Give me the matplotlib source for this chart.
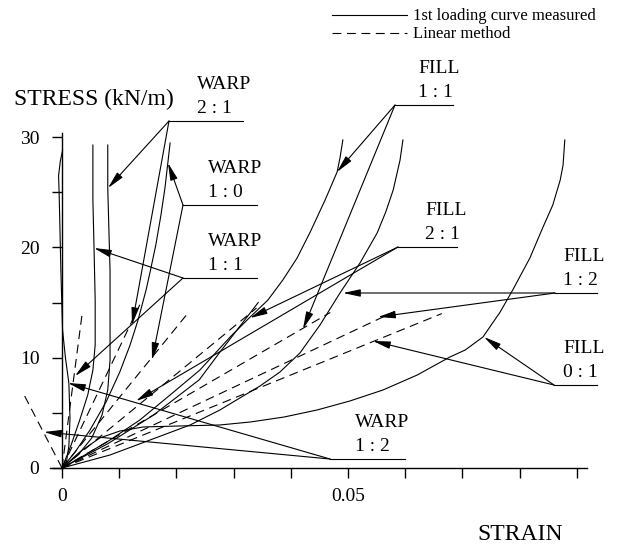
import matplotlib
matplotlib.use("Agg")
import matplotlib.pyplot as plt
from matplotlib.ticker import FixedLocator, FuncFormatter

plt.rcParams["font.family"] = ["Liberation Serif", "DejaVu Serif"]

# ---- data: 1st loading curves measured (strain, stress kN/m) ----
warp_12_strain = [0.0, 0.0008, 0.0012, 0.0014, 0.0012, 0.0006, 0.0001, -0.0002, -0.0005, -0.0006, -0.0003, 0.0001]
warp_12_stress = [0.0, 0.6, 2.0, 4.5, 7.7, 10.0, 12.5, 18.0, 24.9, 26.5, 27.8, 28.8]

warp_11_strain = [0.0, 0.0016, 0.0031, 0.0045, 0.0054, 0.0058, 0.0058, 0.0056, 0.0054, 0.0054]
warp_11_stress = [0.0, 2.09, 4.35, 6.62, 8.88, 11.15, 15.23, 19.95, 24.30, 29.28]

warp_21_strain = [0.0, 0.0028, 0.0052, 0.0070, 0.0080, 0.0084, 0.0084, 0.0084, 0.0082, 0.0080, 0.0080]
warp_21_stress = [0.0, 1.18, 2.72, 4.81, 7.07, 9.79, 13.42, 17.95, 21.58, 25.39, 29.28]

warp_10_strain = [0.0, 0.0023, 0.0049, 0.0077, 0.0101, 0.0119, 0.0133, 0.0147, 0.0154, 0.0164, 0.0173, 0.0180, 0.0185, 0.0189]
warp_10_stress = [0.0, 1.45, 3.45, 5.98, 8.70, 11.15, 13.42, 16.14, 17.77, 20.22, 22.94, 25.39, 27.65, 29.47]

fill_21_strain = [0.0, 0.008, 0.016, 0.024, 0.0276, 0.0343]
fill_21_stress = [0.0, 2.2, 4.8, 8.0, 10.5, 15.0]

fill_11_strain = [0.0, 0.0040, 0.0084, 0.0136, 0.0189, 0.0241, 0.0294, 0.0329, 0.0360, 0.0386, 0.0411, 0.0434, 0.0460, 0.0481, 0.0486, 0.0491]
fill_11_stress = [0.0, 1.18, 2.54, 4.35, 6.62, 8.88, 11.88, 13.69, 15.23, 17.04, 19.04, 21.40, 24.30, 26.84, 28.11, 29.74]

fill_12_strain = [0.0, 0.0084, 0.0154, 0.0224, 0.0276, 0.0311, 0.0346, 0.0381, 0.0416, 0.0451, 0.0486, 0.0521, 0.0551, 0.0566, 0.0579, 0.0591, 0.0596]
fill_12_stress = [0.0, 1.18, 2.54, 3.90, 5.26, 6.35, 7.43, 8.70, 10.43, 12.96, 15.87, 18.59, 21.31, 23.21, 25.20, 27.92, 29.74]

fill_01_strain = [0.0, 0.0031, 0.0066, 0.0101, 0.0142, 0.0206, 0.0276, 0.0329, 0.0388, 0.0446, 0.0503, 0.0561, 0.0621,
                  0.0678, 0.0705, 0.0736, 0.0766, 0.0788, 0.0818, 0.0841, 0.0858, 0.0871, 0.0876, 0.0879]
fill_01_stress = [0.0, 1.45, 2.72, 3.35, 3.72, 3.81, 3.90, 4.17, 4.62, 5.26, 6.07, 7.07, 8.43,
                  10.06, 10.70, 11.88, 14.14, 16.14, 19.04, 21.85, 23.84, 26.11, 27.47, 29.74]

# ---- data: linear method, straight from origin to end point ----
linear_names = ["WARP 1:2", "WARP 1:1", "WARP 2:1", "WARP 1:0", "FILL 2:1", "FILL 1:1", "FILL 1:2", "FILL 0:1"]
linear_end_strain = [-0.0068, 0.0035, 0.0136, 0.0218, 0.0340, 0.0469, 0.0582, 0.0664]
linear_end_stress = [6.8, 13.9, 14.8, 13.9, 14.5, 14.1, 14.2, 14.0]

x_ticks = [0.0, 0.01, 0.02, 0.03, 0.04, 0.05, 0.06, 0.07, 0.08, 0.09]
x_tick_text = {0.0: "0", 0.05: "0.05"}
y_ticks = [0, 10, 20, 30]
y_minor = [5, 15, 25]

# ---- layout: pixel mapping of the original figure ----
W, H = 619, 546
X0, SX = 62.0, 5720.0     # px at strain 0, px per unit strain
Y0, SY = 468.0, 11.03     # px at stress 0, px per kN/m


def dx(px):
    return (px - X0) / SX


def dy(py):
    return (Y0 - py) / SY


fig = plt.figure(figsize=(W / 100, H / 100), dpi=100)
ax = fig.add_axes([0, 0, 1, 1])
ax.set_xlim(dx(0), dx(W))
ax.set_ylim(dy(H), dy(0))
ax.patch.set_visible(False)

lw = 0.8
curves = [
    (warp_12_strain, warp_12_stress), (warp_11_strain, warp_11_stress),
    (warp_21_strain, warp_21_stress), (warp_10_strain, warp_10_stress),
    (fill_21_strain, fill_21_stress), (fill_11_strain, fill_11_stress),
    (fill_12_strain, fill_12_stress), (fill_01_strain, fill_01_stress),
]
for xs, ys in curves:
    ax.plot(xs, ys, color="black", lw=lw, solid_joinstyle="round")

for ex, ey in zip(linear_end_strain, linear_end_stress):
    ax.plot([0, ex], [0, ey], color="black", lw=lw, linestyle=(0, (8, 5)))

# axes spines through the origin
for s in ("top", "right"):
    ax.spines[s].set_visible(False)
ax.spines["left"].set_position(("data", 0))
ax.spines["bottom"].set_position(("data", 0))
ax.spines["left"].set_bounds(0, dy(133))
ax.spines["bottom"].set_bounds(dx(50), dx(587))
for s in ("left", "bottom"):
    ax.spines[s].set_linewidth(1.0)
ax.yaxis.set_ticks_position("left")
ax.xaxis.set_ticks_position("bottom")
ax.xaxis.set_major_locator(FixedLocator(x_ticks))
ax.xaxis.set_major_formatter(FuncFormatter(lambda v, p: x_tick_text.get(round(v, 3), "")))
ax.yaxis.set_major_locator(FixedLocator(y_ticks))
ax.yaxis.set_minor_locator(FixedLocator(y_minor))
ax.tick_params(axis="both", which="both", direction="out", length=7.2, width=1.0, labelsize=14)
ax.tick_params(axis="y", pad=9)
ax.tick_params(axis="x", pad=7)

# axis titles
ax.text(dx(14), dy(105), "STRESS (kN/m)", fontsize=17, ha="left", va="baseline")
ax.text(dx(477), dy(540), "STRAIN", fontsize=17, ha="left", va="baseline")

# legend
ax.plot([dx(332), dx(407)], [dy(15), dy(15)], color="black", lw=lw)
ax.text(dx(413), dy(20), "1st loading curve measured", fontsize=12, ha="left", va="baseline")
ax.plot([dx(332), dx(407)], [dy(33), dy(33)], color="black", lw=lw, linestyle=(0, (8, 5)))
ax.text(dx(413), dy(38), "Linear method", fontsize=12, ha="left", va="baseline")

# labelled leaders: (name, ratio, text left px, underline y px, underline x0, x1 px, arrow tips px)
labels = [
    ("WARP", "2 : 1", 197, 121, 169, 243, [(108, 188), (132, 325)]),
    ("WARP", "1 : 0", 208, 205, 183, 257, [(168, 163), (152, 360)]),
    ("WARP", "1 : 1", 208, 278, 183, 257, [(94, 248), (75, 376)]),
    ("WARP", "1 : 2", 355, 459, 330, 405, [(44, 432), (68, 383)]),
    ("FILL", "1 : 1", 418, 105, 395, 453, [(337, 172), (303, 329)]),
    ("FILL", "2 : 1", 425, 247, 398, 457, [(250, 318), (136, 401)]),
    ("FILL", "1 : 2", 563, 293, 555, 597, [(343, 293), (378, 317)]),
    ("FILL", "0 : 1", 563, 385, 554, 597, [(484, 337), (373, 341)]),
]
for name, ratio, tx, uy, ux0, ux1, tips in labels:
    ax.plot([dx(ux0), dx(ux1)], [dy(uy), dy(uy)], color="black", lw=lw)
    ax.text(dx(tx), dy(uy - 8), ratio, fontsize=14, ha="left", va="baseline")
    ax.text(dx(tx), dy(uy - 32), name, fontsize=14, ha="left", va="baseline")
    for tpx, tpy in tips:
        ax.annotate("", xy=(dx(tpx), dy(tpy)), xytext=(dx(ux0), dy(uy)),
                    arrowprops=dict(arrowstyle="-|>,head_length=0.75,head_width=0.16",
                                    mutation_scale=14, lw=lw, color="black",
                                    shrinkA=0, shrinkB=0))

fig.savefig("out.png", dpi=100, facecolor="white")
